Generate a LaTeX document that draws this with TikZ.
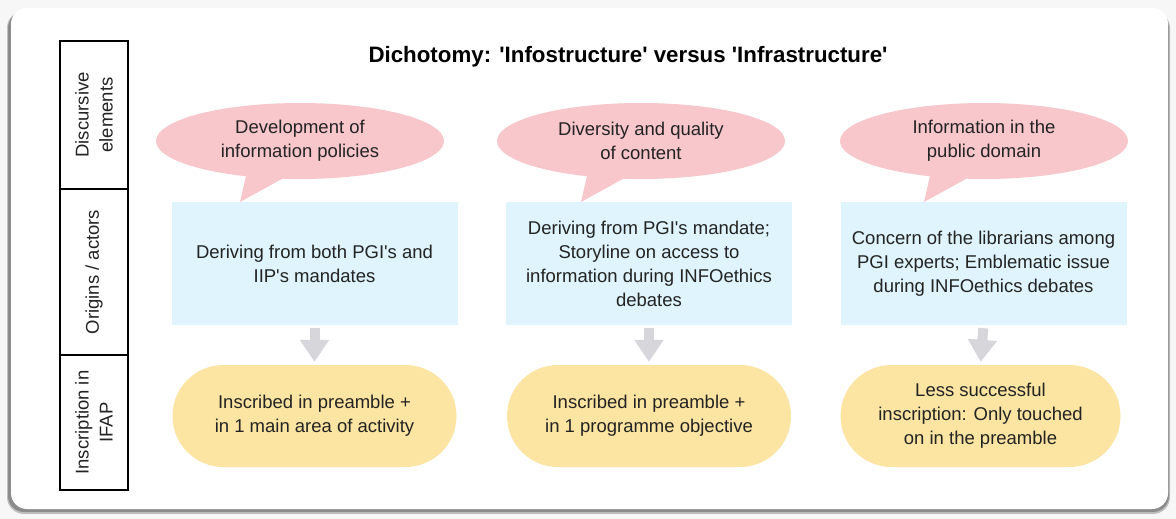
\documentclass[tikz,border=0pt]{standalone}
\usepackage{fontspec}
\setmainfont{Liberation Sans}
\usepackage[dvipsnames]{xcolor}
\usetikzlibrary{positioning,shapes.callouts,arrows.meta}

\definecolor{bubblepink}{RGB}{248,199,204}
\definecolor{originblue}{RGB}{223,244,252}
\definecolor{ifapyellow}{RGB}{252,229,163}
\definecolor{arrowgrey}{RGB}{214,214,219}
\definecolor{textgrey}{RGB}{35,35,35}

\newcommand{\bodyfont}{\fontsize{18.5}{24}\selectfont}
\newcommand{\titlefont}{\fontsize{22.3}{26}\selectfont\bfseries}
\newcommand{\sq}{\textquotesingle}

\begin{document}
\begin{tikzpicture}[x=1pt,y=-1pt,node distance=334.5pt,
    bubble/.style={ellipse callout,fill=bubblepink,minimum width=288pt,minimum height=76pt,inner sep=0pt,align=center,font=\bodyfont,text=textgrey},
    origin box/.style={rectangle,fill=originblue,minimum width=286pt,minimum height=123pt,align=center,font=\bodyfont,text=textgrey},
    ifap box/.style={rectangle,rounded corners=51pt,fill=ifapyellow,minimum width=284pt,minimum height=102pt,align=center,font=\bodyfont,text=textgrey},
    row label/.style={draw,line width=1.4pt,rotate=90,minimum height=68pt,inner sep=0pt,align=center,font=\bodyfont,text=textgrey},
    down arrow/.style={line width=10pt,arrowgrey,-{Triangle[width=28pt,length=22pt]},shorten <=3pt,shorten >=3pt}]
            \useasboundingbox (0,0) rectangle (1176,519);
            \fill[black!3] (0,0) rectangle (1176,519);
            \fill[black!25,rounded corners=17pt] (7,11) rectangle (1170,514);
            \fill[black!45,rounded corners=16pt] (8,12) rectangle (1169,512);
            \fill[white,rounded corners=16pt] (11,8) rectangle (1168,509);

            \node[row label, minimum width=148pt] (r1) at (94,115) {Discursive\\elements};
            \node[row label, minimum width=166pt] (r2) at (94,272) {Origins / actors};
            \node[row label, minimum width=135pt] (r3) at (94,422.5) {Inscription in\\IFAP};

            \node[font=\titlefont] (title) at (628,57) {Dichotomy: \sq Infostructure\sq{} versus \sq Infrastructure\sq};

            \coordinate (t1) at (240,202);
            \coordinate (t2) at (581,202);
            \coordinate (t3) at (924,202);
            \node[bubble, callout absolute pointer={(t1)}] (b1) at (300,141) {Development of\\information policies};
            \node[bubble, callout absolute pointer={(t2)}] (b2) at (641,141) {Diversity and quality\\of content};
            \node[bubble, callout absolute pointer={(t3)}] (b3) at (984,141) {Information in the\\public domain};

            \node[origin box] (o1) at (314.5,263.5) {Deriving from both PGI\sq s and\\IIP\sq s mandates};
            \node[origin box] (o2) [right of = o1] {Deriving from PGI\sq s mandate;\\Storyline on access to\\information during INFOethics\\debates};
            \node[origin box] (o3) [right of = o2] {Concern of the librarians among\\PGI experts; Emblematic issue\\during INFOethics debates};

            \node[ifap box] (i1) [below of = o1, node distance = 152.5pt] {Inscribed in preamble +\\in 1 main area of activity};
            \node[ifap box] (i2) [below of = o2, node distance = 152.5pt] {Inscribed in preamble +\\in 1 programme objective};
            \node[ifap box] (i3) [below of = o3, node distance = 152.5pt, xshift = -3pt, minimum width = 280pt] {Less successful\\inscription: Only touched\\on in the preamble};

            \path[down arrow]
                (o1) edge (i1)
                (o2) edge (i2)
                (o3.south) edge (i3.north)
                ;
        \end{tikzpicture}
\end{document}
